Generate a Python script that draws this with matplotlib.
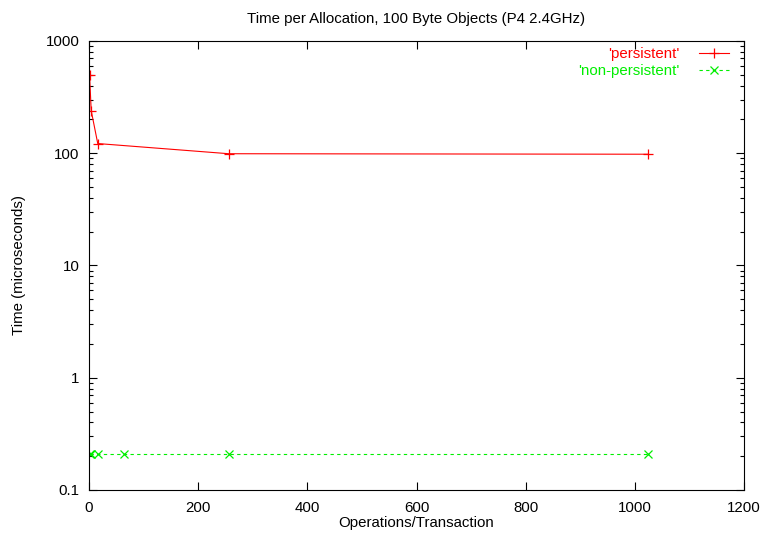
import numpy as np
import matplotlib.pyplot as plt
from matplotlib.ticker import FixedLocator, LogLocator, NullFormatter

plt.rcParams['font.family'] = ['Liberation Sans', 'DejaVu Sans']

# data
pers_x = [1, 4, 16, 256, 1024]
pers_y = [500, 240, 122, 99, 98]
nonpers_x = [1, 4, 16, 64, 256, 1024]
nonpers_y = [0.21, 0.21, 0.21, 0.21, 0.21, 0.21]

fs = 10.8

fig = plt.figure(figsize=(7.66, 5.33), dpi=100)
ax = fig.add_axes([0.1162, 0.0807, 0.8551, 0.8424])

ax.plot(pers_x, pers_y, '-', color='#ff0000', lw=0.8, marker='+', ms=7,
        mew=0.9, label="'persistent'")
ax.plot(nonpers_x, nonpers_y, '--', color='#00ee00', lw=0.8, marker='x', ms=6,
        mew=0.9, dashes=(3, 3), label="'non-persistent'")

ax.set_yscale('log')
ax.set_xlim(0, 1200)
ax.set_ylim(0.1, 1000)
ax.xaxis.set_major_locator(FixedLocator(range(0, 1201, 200)))
ax.yaxis.set_major_locator(FixedLocator([0.1, 1, 10, 100, 1000]))
ax.yaxis.set_minor_locator(LogLocator(base=10, subs=np.arange(2, 10)))
ax.yaxis.set_minor_formatter(NullFormatter())
ax.set_yticklabels(['0.1', '1', '10', '100', '1000'])

ax.tick_params(which='both', direction='in', top=True, right=True, labelsize=fs)
ax.tick_params(which='major', length=6, width=0.8)
ax.tick_params(which='minor', length=3, width=0.8)
ax.tick_params(axis='y', which='major', pad=7)
ax.tick_params(axis='x', which='major', pad=8)
for s in ax.spines.values():
    s.set_linewidth(0.8)

ax.set_title('Time per Allocation, 100 Byte Objects (P4 2.4GHz)', fontsize=fs, pad=13)
ax.set_xlabel('Operations/Transaction', fontsize=fs, labelpad=1)
ax.set_ylabel('Time (microseconds)', fontsize=fs, labelpad=14)

ax.legend(loc='upper right', frameon=False, markerfirst=False, labelcolor='linecolor',
          fontsize=fs, handlelength=2.0, handletextpad=1.3, borderaxespad=0.1,
          borderpad=0.1, labelspacing=0.2, bbox_to_anchor=(0.982, 0.993))

fig.savefig('out.png', dpi=100)
